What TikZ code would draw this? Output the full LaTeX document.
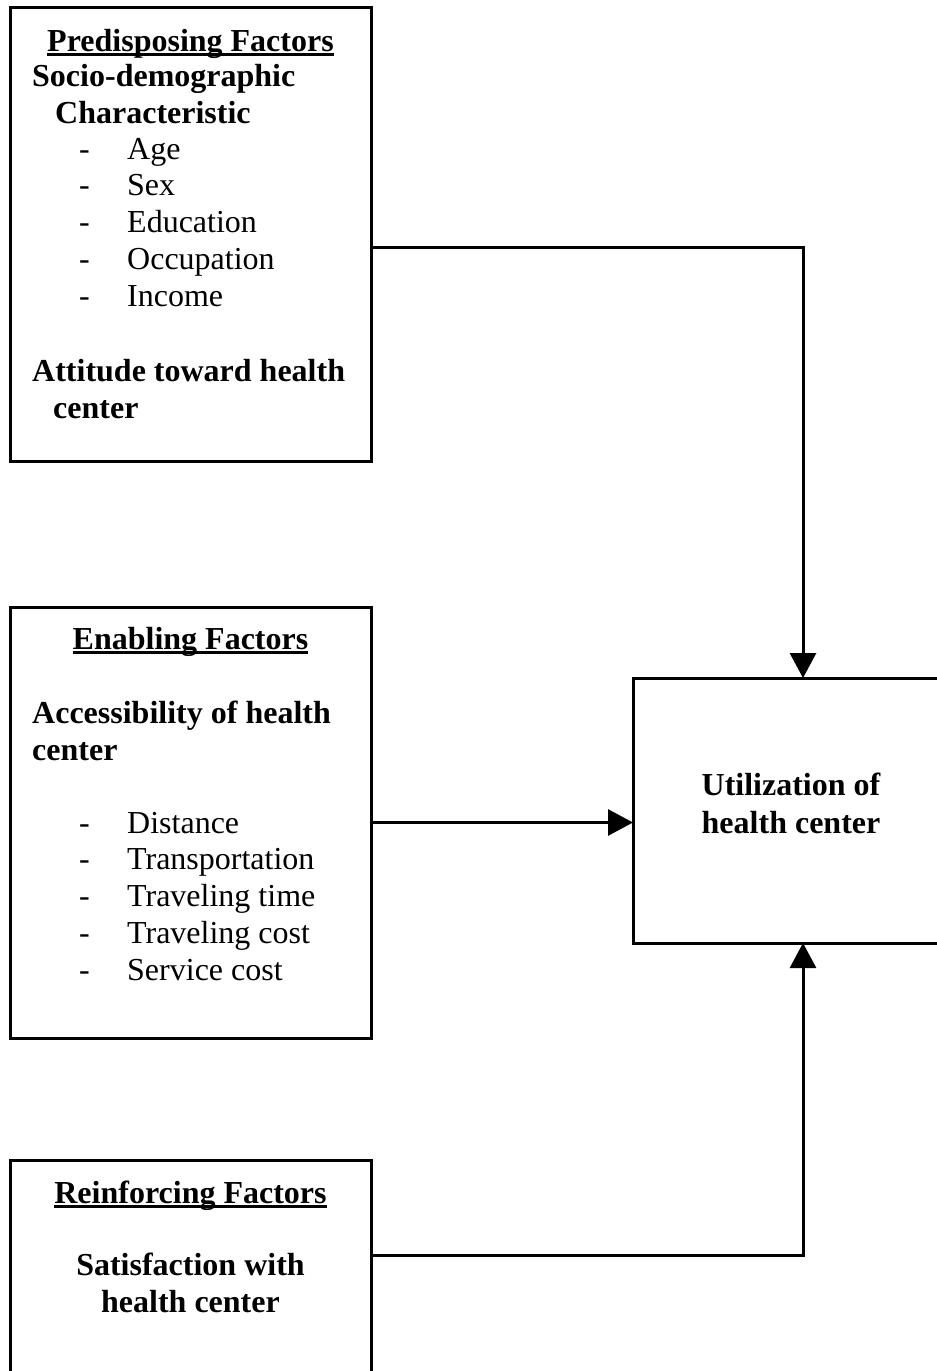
\documentclass[tikz,border=0pt]{standalone}
\usepackage{fontspec}
\setmainfont{Liberation Serif}
\usepackage{tikz}
\usetikzlibrary{arrows.meta}
\newcommand{\bigtext}{\fontsize{32pt}{36.8pt}\selectfont}
\newcommand{\ulfactor}[1]{\setbox0\hbox{#1}\rlap{\rule[-5pt]{\wd0}{3pt}}\box0}
\tikzset{
  factorbox/.style={draw, line width=3pt, minimum width=361pt,
    inner sep=0pt, outer sep=0pt},
  titletext/.style={font=\bigtext\bfseries, anchor=base, inner sep=0pt},
  headtext/.style={font=\bigtext\bfseries, anchor=base west, inner sep=0pt},
  midtext/.style={font=\bigtext\bfseries, anchor=base, inner sep=0pt},
  itemtext/.style={font=\bigtext, anchor=base west, inner sep=0pt},
  arr/.style={line width=3pt, -{Triangle[length=25pt, width=26pt]}},
}
\begin{document}
\begin{tikzpicture}[x=1pt, y=-1pt]
  \useasboundingbox (0,0) rectangle (937,1371);

  % Boxes
  \node[factorbox, minimum height=454pt] (pre) at (190.5, 234) {};
  \node[factorbox, minimum height=431pt] (ena) at (190.5, 822.5) {};
  \node[factorbox, minimum height=230pt] (rein) at (190.5, 1275) {};
  \node[factorbox, minimum width=340pt, minimum height=265pt] (util) at (803, 810.5) {};

  % Predisposing factors
  \node[titletext] (pretitle) at (190.5, 51) {\ulfactor{Predisposing Factors}};
  \node[headtext] (presocio) at (32, 86) {Socio-demographic};
  \node[headtext] (prechar) at (55, 123) {Characteristic};
  \foreach \lbl [count=\i from 0] in {Age, Sex, Education, Occupation, Income} {
    \node[itemtext] (predash\i) at (79, {159+36.8*\i}) {-};
    \node[itemtext] (preitem\i) at (127, {159+36.8*\i}) {\lbl};
  }
  \node[headtext] (preatt) at (32, 381) {Attitude toward health};
  \node[headtext] (preattb) at (53, 418) {center};

  % Enabling factors
  \node[titletext] (enatitle) at (190.5, 649) {\ulfactor{Enabling Factors}};
  \node[headtext] (enaacc) at (32, 723) {Accessibility of health};
  \node[headtext] (enaaccb) at (32, 760) {center};
  \foreach \lbl [count=\i from 0] in {Distance, Transportation, Traveling time,
      Traveling cost, Service cost} {
    \node[itemtext] (enadash\i) at (79, {833+36.8*\i}) {-};
    \node[itemtext] (enaitem\i) at (127, {833+36.8*\i}) {\lbl};
  }

  % Reinforcing factors
  \node[titletext] (reintitle) at (190.5, 1203) {\ulfactor{Reinforcing Factors}};
  \node[midtext] (reinsat) at (190.5, 1275) {Satisfaction with};
  \node[midtext] (reinsatb) at (190.5, 1312) {health center};

  % Outcome
  \node[midtext] (utiltext) at (791, 795) {Utilization of};
  \node[midtext] (utiltextb) at (791, 833) {health center};

  % Arrows
  \draw[arr] ([yshift=-13pt]pre.east) -| (util.north);
  \draw[arr] (ena.east) -- (ena.east -| util.west);
  \draw[arr] ([yshift=20pt]rein.east) -| (util.south);
\end{tikzpicture}
\end{document}
